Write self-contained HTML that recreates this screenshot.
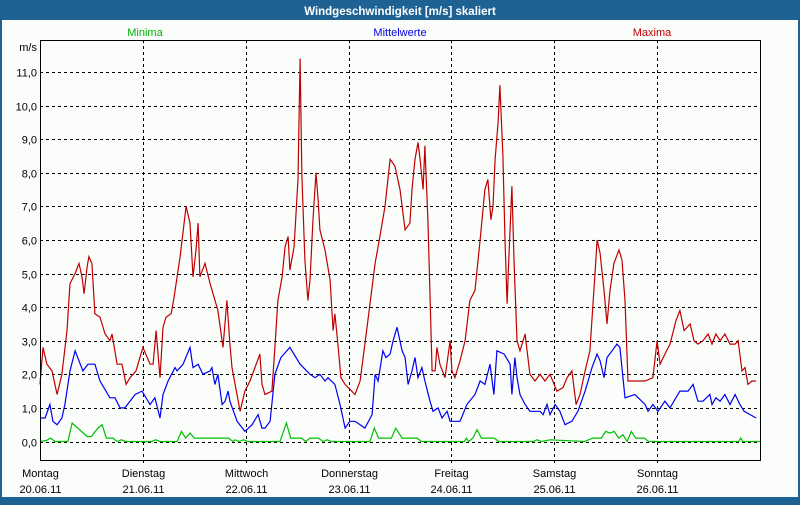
<!DOCTYPE html>
<html><head><meta charset="utf-8"><style>
html,body{margin:0;padding:0;}
body{width:800px;height:500px;overflow:hidden;background:#1e6294;font-family:"Liberation Sans",sans-serif;}
svg text{font-family:"Liberation Sans",sans-serif;}
</style></head><body>
<svg id="chart" width="800" height="500" xmlns="http://www.w3.org/2000/svg">
<rect x="0" y="0" width="800" height="500" fill="#1e6294"/>
<rect x="2" y="20" width="796" height="477" fill="#fbfdfb"/>
<text x="400" y="15" text-anchor="middle" fill="#fff" font-size="11.5" font-weight="bold">Windgeschwindigkeit [m/s] skaliert</text>
<text x="145" y="36" text-anchor="middle" fill="#00b000" font-size="11">Minima</text>
<text x="400" y="36" text-anchor="middle" fill="#0000e0" font-size="11">Mittelwerte</text>
<text x="652" y="36" text-anchor="middle" fill="#c00000" font-size="11">Maxima</text>
<text x="37" y="51" text-anchor="end" fill="#000" font-size="11">m/s</text>
<g id="grid"></g>
<g id="series"></g>
<rect x="40.5" y="40.5" width="720" height="420" fill="none" stroke="#000" stroke-width="1"/>
<g id="labels"></g>
</svg>
<script>
const yTicks=[0,1,2,3,4,5,6,7,8,9,10,11];
const yTickLabels=["0,0","1,0","2,0","3,0","4,0","5,0","6,0","7,0","8,0","9,0","10,0","11,0"];
const dayNames=["Montag","Dienstag","Mittwoch","Donnerstag","Freitag","Samstag","Sonntag"];
const dayDates=["20.06.11","21.06.11","22.06.11","23.06.11","24.06.11","25.06.11","26.06.11"];
const maxHours=[0,0.7,1.6,2.8,4.0,5.1,6.3,7.0,8.2,9.1,9.8,10.3,11.0,11.4,12.1,12.8,14.0,15.2,16.3,16.8,18.0,19.1,20.1,21.0,22.4,24.0,25.7,26.4,27.1,28.0,28.7,29.4,30.6,31.3,32.7,34.1,35.0,35.7,36.4,36.9,37.3,38.5,39.7,41.5,42.7,43.6,44.3,44.8,46.7,47.8,49.0,51.3,51.8,52.5,54.1,54.8,55.5,56.5,57.2,57.9,58.3,59.3,60.2,60.7,61.1,61.8,62.5,63.0,63.7,64.4,64.9,65.3,66.5,67.7,68.4,68.8,69.5,70.2,71.2,73.5,74.7,75.8,77.0,78.2,79.3,80.5,81.7,82.8,84.0,85.2,86.3,86.8,87.5,88.2,88.7,89.4,89.8,90.5,91.5,92.2,92.6,93.3,94.5,95.7,96.1,96.8,98.0,99.2,100.3,101.5,102.7,103.8,104.5,105.2,105.7,106.2,106.9,107.3,108.0,108.5,109.0,109.4,110.1,110.6,111.3,112.0,113.2,114.3,115.5,116.7,117.8,119.0,120.6,122.0,123.0,124.1,125.1,126.0,127.2,128.3,129.5,130.0,130.7,131.6,132.3,133.0,133.9,135.1,135.8,136.5,137.2,138.1,139.5,141.2,143.0,144.0,144.7,145.8,147.0,148.4,149.3,150.3,151.7,152.6,153.5,154.7,155.9,156.8,157.7,158.7,159.8,161.0,162.2,162.9,163.8,164.5,165.2,166.1,167.1];
const maxValues=[1.7,2.8,2.3,2.1,1.4,2.0,3.3,4.7,5.0,5.3,4.9,4.4,5.2,5.5,5.3,3.8,3.7,3.2,3.0,3.2,2.3,2.3,1.7,1.9,2.1,2.8,2.3,2.3,3.3,1.9,3.4,3.7,3.8,4.3,5.5,7.0,6.5,4.9,5.7,6.5,4.9,5.3,4.7,3.9,2.8,4.2,2.9,2.2,0.9,1.5,1.8,2.6,1.7,1.4,1.5,2.8,4.2,4.9,5.8,6.1,5.1,5.8,7.8,11.4,7.9,5.4,4.2,4.8,6.6,8.0,7.2,6.3,5.7,4.8,3.3,3.8,2.9,1.9,1.7,1.4,1.8,2.9,4.1,5.3,6.1,7.0,8.4,8.2,7.5,6.3,6.5,7.5,8.4,8.9,8.4,7.5,8.8,6.6,2.1,2.1,2.8,2.3,1.9,3.0,2.1,1.9,2.4,3.0,4.2,4.5,6.0,7.5,7.8,6.6,7.0,8.4,9.5,10.6,8.5,6.0,4.1,5.5,7.6,5.4,3.0,2.7,3.2,2.0,1.8,2.0,1.8,2.0,1.5,1.6,1.9,2.1,1.1,1.4,2.1,2.7,5.0,6.0,5.6,4.5,3.5,4.5,5.3,5.7,5.4,4.2,1.8,1.8,1.8,1.8,1.9,3.0,2.3,2.6,2.9,3.6,3.9,3.3,3.5,3.0,2.9,3.0,3.2,2.9,3.2,3.0,3.2,2.9,2.9,3.0,2.1,2.2,1.7,1.8,1.8];
const meanHours=[0,1.2,2.3,3.0,4.0,5.1,5.8,7.0,8.2,10.0,11.2,12.8,14.0,16.3,17.5,18.7,19.8,21.0,22.2,23.8,25.7,26.8,28.0,28.7,29.9,31.5,32.0,33.4,35.0,35.7,36.9,38.0,39.7,40.1,40.8,41.5,42.5,43.2,43.9,44.3,46.0,47.8,49.5,50.9,51.8,52.5,53.7,54.8,56.2,58.3,60.7,63.0,64.2,65.3,66.5,67.2,68.8,70.0,71.2,72.3,73.5,74.7,75.8,77.5,78.2,78.9,80.0,80.7,81.7,82.4,83.3,84.5,85.2,85.9,86.8,87.5,88.2,89.1,89.8,91.0,91.7,92.9,93.8,95.0,95.7,98.0,99.6,101.5,102.7,103.8,105.0,105.9,106.6,108.3,109.7,110.1,110.8,111.3,112.0,113.2,114.3,116.7,117.4,118.3,119.0,120.2,121.3,122.5,124.1,125.5,127.2,128.8,130.0,130.7,131.6,132.3,133.5,134.6,135.3,136.5,138.8,141.2,141.9,143.0,144.2,145.8,147.0,147.9,149.3,151.2,152.4,153.5,154.7,156.3,156.8,157.7,158.7,159.8,161.0,162.2,163.3,164.3,165.7,167.1];
const meanValues=[0.7,0.7,1.1,0.6,0.5,0.7,1.1,2.1,2.7,2.1,2.3,2.3,1.8,1.3,1.3,1.0,1.0,1.2,1.4,1.5,1.1,1.3,0.7,1.4,1.8,2.2,2.1,2.3,2.8,2.2,2.3,2.0,2.1,2.2,1.7,2.0,1.1,1.2,1.5,1.2,0.6,0.3,0.5,0.8,0.4,0.4,0.6,2.0,2.5,2.8,2.3,2.0,1.9,2.0,1.8,1.9,1.7,1.1,0.4,0.6,0.6,0.5,0.4,0.8,2.0,1.8,2.7,2.5,2.6,3.0,3.4,2.7,2.5,1.7,2.1,2.5,1.9,2.2,1.8,1.2,0.9,1.0,0.7,0.9,0.6,0.6,1.1,1.4,1.8,1.7,2.3,1.4,2.7,2.6,2.3,1.4,2.5,1.9,1.4,1.1,0.9,0.9,0.8,1.1,0.8,1.1,0.9,0.5,0.6,0.9,1.5,2.2,2.6,2.4,1.9,2.5,2.7,2.9,2.8,1.3,1.4,1.1,0.9,1.1,0.9,1.2,1.0,1.2,1.5,1.5,1.7,1.2,1.2,1.4,1.1,1.3,1.2,1.4,1.1,1.4,1.1,0.9,0.8,0.7];
const minHours=[0,1.5,2.5,3.5,6.5,7.5,11,12,13.5,14.5,15.5,17,18,19,20,26,27,28,32,33,34,35,36,44,45,45.5,46.5,47.5,48.5,56,57.5,58.5,61,62,63,65,66,67,68,77,78,79,82,83,84.5,88,89,99,99.5,100,101,102,103,106,107,115,116,117,119,127,128,129,131,132,133,134,135,136,137,138,139,140,141,142,163,163.5,164,168];
const minValues=[0,0.03,0.1,0,0,0.55,0.15,0.15,0.4,0.5,0.1,0.1,0,0.05,0,0,0.05,0,0,0.3,0.1,0.25,0.1,0.1,0,0.05,0,0.05,0,0,0.55,0.1,0.1,0,0.1,0.1,0,0.05,0,0,0.4,0.1,0.1,0.4,0.1,0.1,0,0,0.1,0,0.1,0.35,0.1,0.1,0,0,0.05,0,0.05,0,0.05,0.1,0.1,0.3,0.25,0.3,0.1,0.2,0,0.3,0.1,0.1,0.1,0,0,0.1,0,0];

const X0=40,X1=760,Y0=441.5,PER=33.6,HOURS=168;
const xs=h=>X0+(h/HOURS)*(X1-X0);
const ys=v=>Y0-v*PER;
const NS="http://www.w3.org/2000/svg";
const grid=document.getElementById('grid');
const labels=document.getElementById('labels');
const series=document.getElementById('series');

yTicks.forEach((t,i)=>{
  const l=document.createElementNS(NS,'line');
  const y=Math.round(ys(t))+0.5;
  l.setAttribute('x1',X0);l.setAttribute('x2',X1);l.setAttribute('y1',y);l.setAttribute('y2',y);
  l.setAttribute('stroke','#000');l.setAttribute('stroke-dasharray','3,3');
  
  
  grid.appendChild(l);
  const tx=document.createElementNS(NS,'text');
  tx.setAttribute('x',37);tx.setAttribute('y',y+4);tx.setAttribute('text-anchor','end');tx.setAttribute('font-size','11');
  tx.textContent=yTickLabels[i];
  
  
  labels.appendChild(tx);
});
dayNames.forEach((d,i)=>{
  const x=Math.round(xs(i*24))+0.5;
  if(i>0){
    const l=document.createElementNS(NS,'line');
    l.setAttribute('x1',x);l.setAttribute('x2',x);l.setAttribute('y1',40);l.setAttribute('y2',466);
    l.setAttribute('stroke','#000');l.setAttribute('stroke-dasharray','3,3');
    
    
    grid.appendChild(l);
  }
  const t1=document.createElementNS(NS,'text');
  t1.setAttribute('x',x);t1.setAttribute('y',477);t1.setAttribute('text-anchor','middle');t1.setAttribute('font-size','11');
  t1.textContent=d;
  
  
  labels.appendChild(t1);
  const t2=document.createElementNS(NS,'text');
  t2.setAttribute('x',x);t2.setAttribute('y',493);t2.setAttribute('text-anchor','middle');t2.setAttribute('font-size','11');
  t2.textContent=dayDates[i];
  
  
  labels.appendChild(t2);
});
function drawLine(hs,vs,color,name){
  const p=document.createElementNS(NS,'polyline');
  p.setAttribute('points',hs.map((h,i)=>xs(h).toFixed(1)+','+ys(vs[i]).toFixed(1)).join(' '));
  p.setAttribute('fill','none');p.setAttribute('stroke',color);p.setAttribute('stroke-width','1.2');
  
  
  series.appendChild(p);
}
drawLine(minHours,minValues,'#00c000','minima-line');
drawLine(meanHours,meanValues,'#0000f0','mittelwerte-line');
drawLine(maxHours,maxValues,'#c00000','maxima-line');
</script>
</body></html>
